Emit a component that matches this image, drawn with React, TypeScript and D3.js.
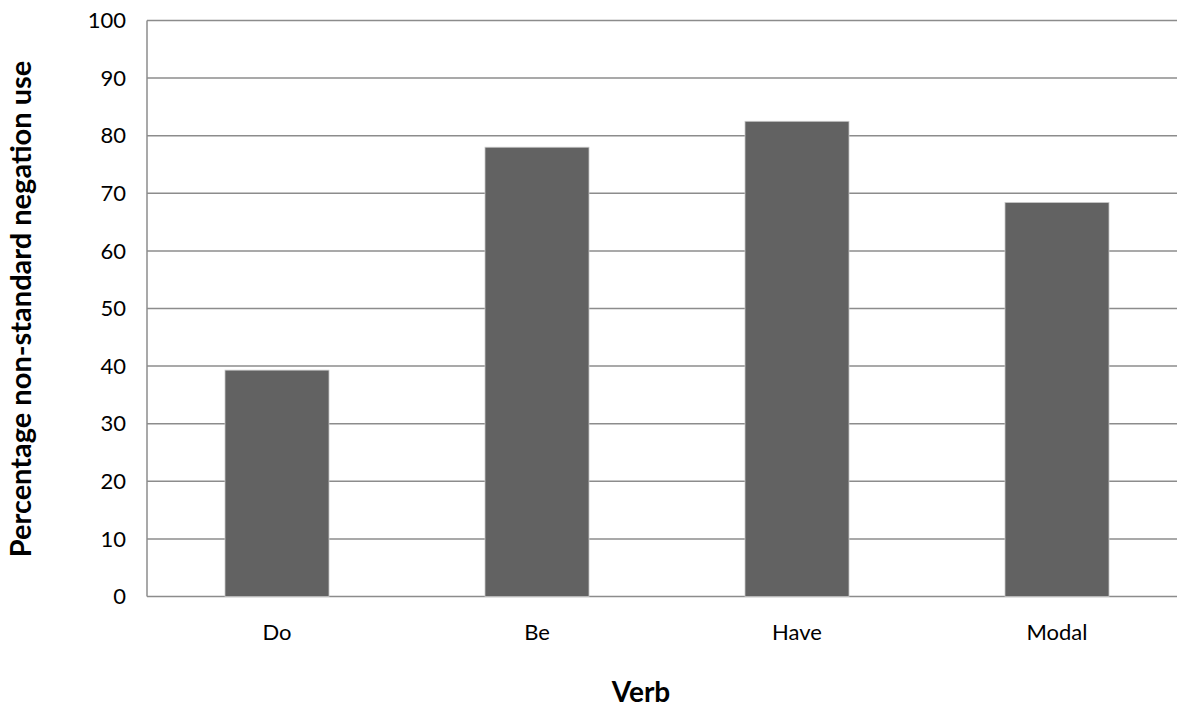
import React, { useEffect, useRef } from "react";
import * as d3 from "d3";

const categories = ["Do", "Be", "Have", "Modal"];
const values = [39.3, 78.0, 82.5, 68.4];
const yTicks = [0, 10, 20, 30, 40, 50, 60, 70, 80, 90, 100];

const W = 1177;
const H = 709;
const margin = { left: 147, top: 20.5, right: -10, bottom: 112 };
const FONT = "Lato, 'Open Sans', sans-serif";

export default function App() {
  const ref = useRef<SVGSVGElement>(null);

  useEffect(() => {
    const svg = d3.select(ref.current);
    svg.selectAll("*").remove();

    const x0 = margin.left;
    const x1 = W - margin.right;
    const y0 = H - margin.bottom - 0.5;
    const y1 = margin.top;

    const x = d3.scaleBand<string>().domain(categories).range([x0, x1]).paddingInner(0.6).paddingOuter(0.3);
    const y = d3.scaleLinear().domain([0, 100]).range([y0, y1]);

    svg.append("rect").attr("width", W).attr("height", H).attr("fill", "#fff");

    // horizontal gridlines
    svg.append("g")
      .selectAll("line")
      .data(yTicks)
      .join("line")
      .attr("x1", x0)
      .attr("x2", x1)
      .attr("y1", (d) => y(d))
      .attr("y2", (d) => y(d))
      .attr("stroke", "#8c8c8c")
      .attr("stroke-width", 1.5);

    // bars
    svg.append("g")
      .selectAll("rect")
      .data(categories)
      .join("rect")
      .attr("x", (d) => x(d)!)
      .attr("width", x.bandwidth())
      .attr("y", (_d, i) => y(values[i]))
      .attr("height", (_d, i) => y(0) - y(values[i]))
      .attr("fill", "#626262")
      .attr("stroke", "#c8c8c8")
      .attr("stroke-width", 0.8);

    // y axis line
    svg.append("line")
      .attr("x1", x0).attr("x2", x0)
      .attr("y1", y1).attr("y2", y0)
      .attr("stroke", "#8c8c8c").attr("stroke-width", 1.5);

    // y tick labels
    svg.append("g")
      .selectAll("text")
      .data(yTicks)
      .join("text")
      .attr("x", x0 - 21)
      .attr("y", (d) => y(d))
      .attr("dy", "0.35em")
      .attr("text-anchor", "end")
      .attr("font-family", FONT)
      .attr("font-size", 22)
      .attr("fill", "#000")
      .text((d) => String(d));

    // x tick labels
    svg.append("g")
      .selectAll("text")
      .data(categories)
      .join("text")
      .attr("x", (d) => x(d)! + x.bandwidth() / 2)
      .attr("y", y0 + 43)
      .attr("text-anchor", "middle")
      .attr("font-family", FONT)
      .attr("font-size", 22)
      .attr("fill", "#000")
      .text((d) => d);

    // axis titles
    svg.append("text")
      .attr("x", 641)
      .attr("y", 702)
      .attr("text-anchor", "middle")
      .attr("font-family", FONT)
      .attr("font-weight", "bold")
      .attr("font-size", 28)
      .text("Verb");

    svg.append("text")
      .attr("transform", `translate(31, 309) rotate(-90)`)
      .attr("text-anchor", "middle")
      .attr("font-family", FONT)
      .attr("font-weight", "bold")
      .attr("font-size", 29)
      .text("Percentage non-standard negation use");
  }, []);

  return (
    <svg
      ref={ref}
      width={W}
      height={H}
      style={{ position: "absolute", left: 0, top: 0, display: "block" }}
    />
  );
}
